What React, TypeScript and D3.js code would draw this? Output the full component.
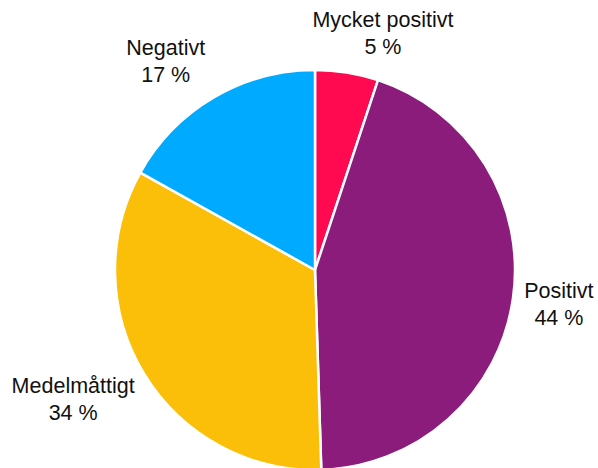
import React from "react";
import * as d3 from "d3";

const categories = ["Mycket positivt", "Positivt", "Medelmåttigt", "Negativt"];
const values = [5.1, 44.4, 33.6, 16.9];
const percentLabels = ["5 %", "44 %", "34 %", "17 %"];
const colors = ["#FF0A50", "#8B1C7C", "#FBBF09", "#00AAFF"];
// layout nudges for labels relative to slice edge midpoint
const labelNudges: [number, number][] = [
  [36, -40],
  [46, 5],
  [-71, 25],
  [-48, -36.5],
];

const W = 598;
const H = 468;
const CX = 315;
const CY = 270;
const R = 200;

export default function App() {
  const data = categories.map((c, i) => ({ c, v: values[i], i }));
  const pie = d3.pie<any>().value((d: any) => d.v).sort(null);
  const arcs = pie(data);
  const arc = d3.arc<any>().innerRadius(0).outerRadius(R);
  return (
    <svg
      width={W}
      height={H}
      style={{ position: "absolute", left: 0, top: 0, display: "block" }}
      fontFamily="Liberation Sans, Arial, sans-serif"
    >
      <rect width={W} height={H} fill="#ffffff" />
      <g transform={`translate(${CX},${CY})`}>
        {arcs.map((a, i) => (
          <path
            key={i}
            d={arc(a) as string}
            fill={colors[i]}
            stroke="#ffffff"
            strokeWidth={2.5}
            strokeLinejoin="round"
          />
        ))}
        {arcs.map((a, i) => {
          const mid = (a.startAngle + a.endAngle) / 2;
          const ex = R * Math.sin(mid) + labelNudges[i][0];
          const ey = -R * Math.cos(mid) + labelNudges[i][1];
          return (
            <text
              key={"l" + i}
              x={ex}
              y={ey - 6}
              textAnchor="middle"
              fontSize={21.5}
              fill="#111111"
            >
              <tspan x={ex} dy={0}>{categories[i]}</tspan>
              <tspan x={ex} dy={27}>{percentLabels[i]}</tspan>
            </text>
          );
        })}
      </g>
    </svg>
  );
}
